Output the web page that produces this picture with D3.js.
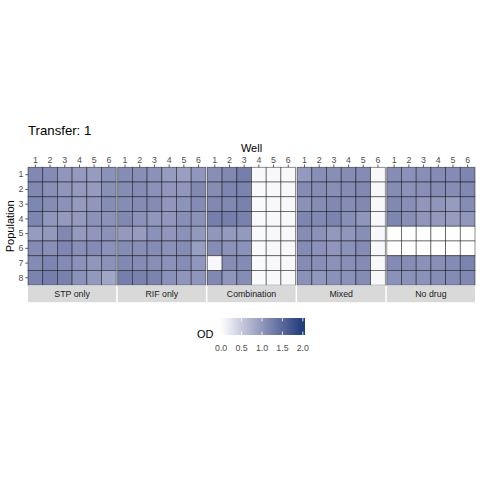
<!DOCTYPE html>
<html>
<head>
<meta charset="utf-8">
<script src="https://cdn.jsdelivr.net/npm/d3@7"></script>
<style>
  html, body { margin: 0; padding: 0; background: #fff; }
  svg { display: block; font-family: "Liberation Sans", Arial, Helvetica, sans-serif; }
</style>
</head>
<body>
<svg id="chart" width="480" height="480"></svg>
<script>
// ---- data ----
const titleText = "Transfer: 1";
const treatments = ["STP only", "RIF only", "Combination", "Mixed", "No drug"];
const wells = ["1", "2", "3", "4", "5", "6"];
const populations = ["1", "2", "3", "4", "5", "6", "7", "8"];
const legendBreaks = [0, 0.5, 1.0, 1.5, 2.0];
const odLimits = [0, 2];

// OD per population (row) and well (column)
const odSTP = [
  [1.15, 1.12, 1.00, 0.97, 0.95, 1.05],
  [1.15, 1.07, 1.02, 0.97, 0.96, 1.07],
  [1.17, 1.10, 1.05, 0.97, 1.00, 1.10],
  [1.18, 1.00, 0.97, 0.97, 1.05, 1.05],
  [0.95, 0.98, 1.15, 0.97, 1.00, 1.05],
  [1.12, 1.07, 1.17, 1.08, 1.12, 1.05],
  [1.12, 1.18, 1.12, 1.05, 1.00, 1.05],
  [1.20, 1.25, 1.22, 1.05, 0.98, 0.85]
];
const odRIF = [
  [1.10, 1.08, 1.05, 0.95, 0.92, 1.00],
  [1.10, 1.12, 1.05, 1.00, 1.00, 1.15],
  [1.10, 1.12, 1.12, 1.00, 1.03, 1.12],
  [1.15, 1.05, 1.00, 1.00, 1.08, 1.05],
  [0.97, 0.95, 1.05, 1.00, 1.05, 0.98],
  [1.10, 1.08, 1.12, 1.05, 1.10, 0.92],
  [1.15, 1.12, 1.08, 1.05, 1.10, 1.00],
  [1.25, 1.22, 1.20, 1.05, 1.02, 1.02]
];
const odCombination = [
  [1.08, 1.15, 1.25, 0.06, 0.06, 0.06],
  [1.10, 1.18, 1.20, 0.05, 0.06, 0.06],
  [1.15, 1.15, 1.22, 0.05, 0.06, 0.06],
  [1.25, 1.25, 1.22, 0.05, 0.06, 0.06],
  [1.00, 0.97, 0.97, 0.05, 0.06, 0.06],
  [1.10, 1.05, 1.05, 0.05, 0.06, 0.06],
  [0.06, 1.10, 1.12, 0.05, 0.06, 0.06],
  [1.15, 1.02, 1.10, 0.05, 0.06, 0.06]
];
const odMixed = [
  [0.97, 1.08, 1.08, 1.10, 1.12, 0.06],
  [1.12, 1.10, 1.08, 1.12, 1.15, 0.06],
  [1.05, 1.10, 1.15, 1.10, 1.15, 0.06],
  [1.18, 1.15, 1.20, 1.08, 1.02, 0.06],
  [1.10, 1.05, 0.98, 1.00, 1.08, 0.06],
  [1.12, 1.05, 1.02, 1.05, 1.12, 0.06],
  [1.12, 1.08, 1.05, 1.08, 1.12, 0.06],
  [1.05, 1.00, 1.05, 1.05, 1.12, 0.06]
];
const odNoDrug = [
  [1.10, 1.05, 1.08, 1.12, 1.12, 1.18],
  [1.10, 1.05, 1.08, 1.12, 1.10, 1.15],
  [1.15, 1.08, 1.00, 1.02, 0.95, 1.10],
  [1.18, 1.08, 1.02, 0.98, 0.95, 1.00],
  [0.00, 0.00, 0.00, 0.00, 0.00, 0.00],
  [0.00, 0.00, 0.00, 0.00, 0.00, 0.00],
  [1.12, 1.10, 1.05, 1.08, 1.12, 1.20],
  [1.05, 1.05, 1.05, 1.10, 1.12, 1.15]
];
const odByTreatment = [odSTP, odRIF, odCombination, odMixed, odNoDrug];

(function () {
// ---- build tidy table ----
const cells = [];
treatments.forEach((t, ti) => {
  populations.forEach((p, pi) => {
    wells.forEach((w, wi) => {
      cells.push({ treatment: t, population: p, well: w, od: odByTreatment[ti][pi][wi] });
    });
  });
});

// ---- layout ----
const svg = d3.select("#chart");
const pLeft = 28, pRight = 475, pTop = 167.3, pBottom = 285.2;
const gap = 1.5;
const lowColor = "#ffffff", highColor = "#1e3c7b";

const color = d3.scaleLinear().domain(odLimits).range([lowColor, highColor])
  .interpolate(d3.interpolateLab).clamp(true);

const xPanel = d3.scaleBand().domain(treatments).range([pLeft, pRight])
  .paddingInner(gap / ((pRight - pLeft + gap) / treatments.length)).paddingOuter(0);
const panelW = xPanel.bandwidth();
const xWell = d3.scaleBand().domain(wells).range([0, panelW]);
const yPop = d3.scaleBand().domain(populations).range([pTop, pBottom]);

const axisTextColor = "#4d4d4d";
const tickColor = "#333333";

treatments.forEach((t) => {
  const g = svg.append("g").attr("transform", `translate(${xPanel(t)},0)`);
  g.selectAll("rect.tile")
    .data(cells.filter(d => d.treatment === t))
    .join("rect")
    .attr("class", "tile")
    .attr("x", d => xWell(d.well))
    .attr("y", d => yPop(d.population))
    .attr("width", xWell.bandwidth())
    .attr("height", yPop.bandwidth())
    .attr("fill", d => color(d.od))
    .attr("stroke", "#000")
    .attr("stroke-opacity", 0.55)
    .attr("stroke-width", 0.8);

  const ax = g.append("g").attr("transform", `translate(0,${pTop})`)
    .call(d3.axisTop(xWell).tickSize(2.75).tickPadding(1.5));
  ax.select(".domain").remove();
  ax.selectAll(".tick line").attr("stroke", tickColor).attr("stroke-width", 0.8);
  ax.selectAll(".tick text").attr("fill", axisTextColor)
    .style("font-size", "8.8px").style("font-family", "Liberation Sans, Arial, sans-serif");

  const strip = g.append("g").attr("transform", `translate(0,${pBottom})`);
  strip.append("rect").attr("x", 0).attr("y", 0).attr("width", panelW).attr("height", 17)
    .attr("fill", "#d9d9d9");
  strip.append("text").attr("x", panelW / 2).attr("y", 11.8)
    .attr("text-anchor", "middle").attr("fill", "#1a1a1a")
    .style("font-size", "8.8px").text(t);
});

const ay = svg.append("g").attr("transform", `translate(${pLeft},0)`)
  .call(d3.axisLeft(yPop).tickSize(2.75).tickPadding(1.8));
ay.select(".domain").remove();
ay.selectAll(".tick line").attr("stroke", tickColor).attr("stroke-width", 0.8);
ay.selectAll(".tick text").attr("fill", axisTextColor)
  .style("font-size", "8.8px").style("font-family", "Liberation Sans, Arial, sans-serif");

svg.append("text").attr("x", pLeft).attr("y", 135).attr("fill", "#000")
  .style("font-size", "13.2px").text(titleText);
svg.append("text").attr("x", (pLeft + pRight) / 2).attr("y", 152).attr("text-anchor", "middle")
  .attr("fill", "#000").style("font-size", "11px").text("Well");
svg.append("text").attr("transform", `translate(14,${(pTop + pBottom) / 2}) rotate(-90)`)
  .attr("text-anchor", "middle").attr("fill", "#000").style("font-size", "11px").text("Population");

// legend
const barX = 219, barY = 318, barW = 86, barH = 17;
const nbin = 20;
const inset = barW / nbin / 2;
const legendX = d3.scaleLinear().domain(odLimits).range([barX + inset, barX + barW - inset]);
const defs = svg.append("defs");
const grad = defs.append("linearGradient").attr("id", "odgrad")
  .attr("x1", "0%").attr("x2", "100%").attr("y1", "0%").attr("y2", "0%");
d3.range(0, 21).forEach(i => {
  const frac = i / 20;
  const v = legendX.invert(barX + frac * barW);
  grad.append("stop").attr("offset", `${frac * 100}%`).attr("stop-color", color(v));
});
svg.append("rect").attr("x", barX).attr("y", barY).attr("width", barW).attr("height", barH)
  .attr("fill", "url(#odgrad)");
const lt = svg.append("g");
legendBreaks.forEach(b => {
  const x = legendX(b);
  lt.append("line").attr("x1", x).attr("x2", x).attr("y1", barY).attr("y2", barY + barH / 5)
    .attr("stroke", "#fff").attr("stroke-width", 0.8);
  lt.append("line").attr("x1", x).attr("x2", x).attr("y1", barY + barH).attr("y2", barY + barH - barH / 5)
    .attr("stroke", "#fff").attr("stroke-width", 0.8);
  lt.append("text").attr("x", x).attr("y", 350.5).attr("text-anchor", "middle")
    .attr("fill", axisTextColor).style("font-size", "8.8px").text(d3.format(".1f")(b));
});
svg.append("text").attr("x", 197).attr("y", 337.5).attr("fill", "#000")
  .style("font-size", "11px").text("OD");
})();
</script>
</body>
</html>
